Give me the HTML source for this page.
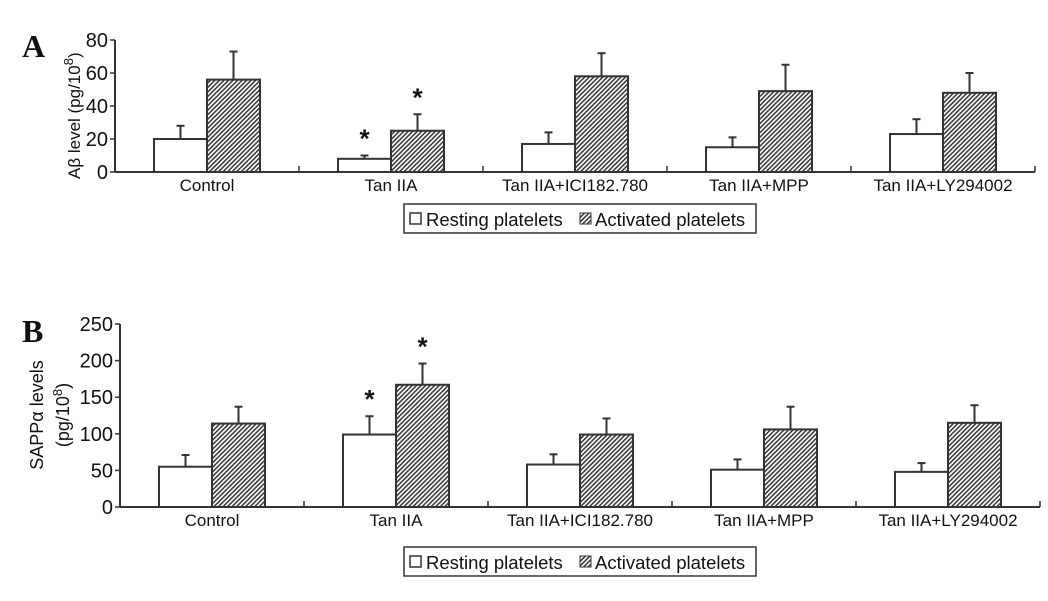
<!DOCTYPE html>
<html><head><meta charset="utf-8"><style>
body{margin:0;background:#fff;}
svg text{font-family:"Liberation Sans",sans-serif;fill:#111;}
</style></head><body>
<svg id="chart" width="1048" height="596" viewBox="0 0 1048 596" xmlns="http://www.w3.org/2000/svg">
<defs>
<pattern id="hatch" patternUnits="userSpaceOnUse" width="3.2" height="3.2" patternTransform="rotate(45)">
<rect width="3.2" height="3.2" fill="#fff"/><rect width="1.5" height="3.2" fill="#333"/>
</pattern>
</defs>
<text x="22" y="57" style="font-family:'Liberation Serif',serif;font-weight:bold;font-size:32px">A</text>
<text x="22" y="342" style="font-family:'Liberation Serif',serif;font-weight:bold;font-size:32px">B</text>
<g id="pa"></g>
<g id="pb"></g>
</svg>
<script>
const categories=["Control","Tan IIA","Tan IIA+ICI182.780","Tan IIA+MPP","Tan IIA+LY294002"];
const aResting=[20,8,17,15,23];
const aRestingErr=[8,2,7,6,9];
const aActivated=[56,25,58,49,48];
const aActivatedErr=[17,10,14,16,12];
const aStarsResting=[false,true,false,false,false];
const aStarsActivated=[false,true,false,false,false];
const aTicks=[0,20,40,60,80];
const bResting=[55,99,58,51,48];
const bRestingErr=[16,25,14,14,12];
const bActivated=[114,167,99,106,115];
const bActivatedErr=[23,29,22,31,24];
const bStarsResting=[false,true,false,false,false];
const bStarsActivated=[false,true,false,false,false];
const bTicks=[0,50,100,150,200,250];
const NS="http://www.w3.org/2000/svg";
function mk(p,t,a){const e=document.createElementNS(NS,t);for(const k in a)e.setAttribute(k,a[k]);p.appendChild(e);return e;}
function panel(g,cfg){
  const y=v=>cfg.y0-(v/cfg.max)*(cfg.y0-cfg.yTop);
  const cw=(cfg.xEnd-cfg.x0)/categories.length;
  const bw=53;
  let ax=mk(g,'line',{x1:cfg.x0,y1:cfg.yTop,x2:cfg.x0,y2:cfg.y0,stroke:'#333','stroke-width':2});
  
  
  let xa=mk(g,'line',{x1:cfg.x0,y1:cfg.y0,x2:cfg.xEnd,y2:cfg.y0,stroke:'#333','stroke-width':2});
  
  
  cfg.ticks.forEach(t=>{
    mk(g,'line',{x1:cfg.x0-5,y1:y(t),x2:cfg.x0,y2:y(t),stroke:'#333','stroke-width':1.5});
    let tx=mk(g,'text',{x:cfg.x0-7,y:y(t)+7,'text-anchor':'end','font-size':20});
    tx.textContent=t;
    
    
  });
  for(let i=1;i<=categories.length;i++){mk(g,'line',{x1:cfg.x0+i*cw,y1:cfg.y0,x2:cfg.x0+i*cw,y2:cfg.y0-6,stroke:'#333','stroke-width':1.5});}
  categories.forEach((c,i)=>{
    const cx=cfg.x0+cw*i+cw/2;
    const series=[[cfg.rest,cfg.restErr,'#fff',cx-bw,cfg.sr,'resting'],[cfg.act,cfg.actErr,'url(#hatch)',cx,cfg.sa,'activated']];
    series.forEach(([v,e,f,x,st,nm])=>{
      const top=y(v[i]+e[i]);
      mk(g,'line',{x1:x+bw/2,y1:y(v[i]),x2:x+bw/2,y2:top,stroke:'#333','stroke-width':2});
      mk(g,'line',{x1:x+bw/2-4,y1:top,x2:x+bw/2+4,y2:top,stroke:'#333','stroke-width':2});
      let r=mk(g,'rect',{x:x,y:y(v[i]),width:bw,height:cfg.y0-y(v[i]),fill:f,stroke:'#333','stroke-width':2});
      
      
      if(st[i]){let s=mk(g,'text',{x:x+bw/2,y:top-8,'text-anchor':'middle','font-size':26,'font-weight':'bold'});s.textContent='*';
        
        }
    });
    let l=mk(g,'text',{x:cx,y:cfg.y0+19,'text-anchor':'middle','font-size':17});
    l.textContent=c;
    
    
  });
  const lg=mk(g,'g',{});
  
  
  mk(lg,'rect',{x:404,y:cfg.ly,width:352,height:29,fill:'#fff',stroke:'#333','stroke-width':1.5});
  mk(lg,'rect',{x:410,y:cfg.ly+9,width:11,height:11,fill:'#fff',stroke:'#333','stroke-width':1.5});
  let t1=mk(lg,'text',{x:426,y:cfg.ly+22,'font-size':18.5});t1.textContent='Resting platelets';
  
  
  mk(lg,'rect',{x:580,y:cfg.ly+9,width:11,height:11,fill:'url(#hatch)',stroke:'#333','stroke-width':1});
  let t2=mk(lg,'text',{x:595,y:cfg.ly+22,'font-size':18.5});t2.textContent='Activated platelets';
  
  
}
const pa=document.getElementById('pa'),pb=document.getElementById('pb');
panel(pa,{x0:115,xEnd:1035,y0:172,yTop:40,max:80,ticks:aTicks,rest:aResting,restErr:aRestingErr,act:aActivated,actErr:aActivatedErr,sr:aStarsResting,sa:aStarsActivated,ly:204});
panel(pb,{x0:120,xEnd:1040,y0:507,yTop:324,max:250,ticks:bTicks,rest:bResting,restErr:bRestingErr,act:bActivated,actErr:bActivatedErr,sr:bStarsResting,sa:bStarsActivated,ly:547});
let ya=mk(pa,'text',{transform:'translate(80,179) rotate(-90)','font-size':17});
ya.innerHTML='Aβ level (pg/10<tspan dy="-7" font-size="13">8</tspan><tspan dy="7">)</tspan>';


let yb1=mk(pb,'text',{transform:'translate(43,415) rotate(-90)','font-size':18,'text-anchor':'middle'});
yb1.textContent='SAPPα levels';


let yb2=mk(pb,'text',{transform:'translate(69,415) rotate(-90)','font-size':18,'text-anchor':'middle'});
yb2.innerHTML='(pg/10<tspan dy="-7" font-size="13">8</tspan><tspan dy="7">)</tspan>';


</script>
</body></html>
